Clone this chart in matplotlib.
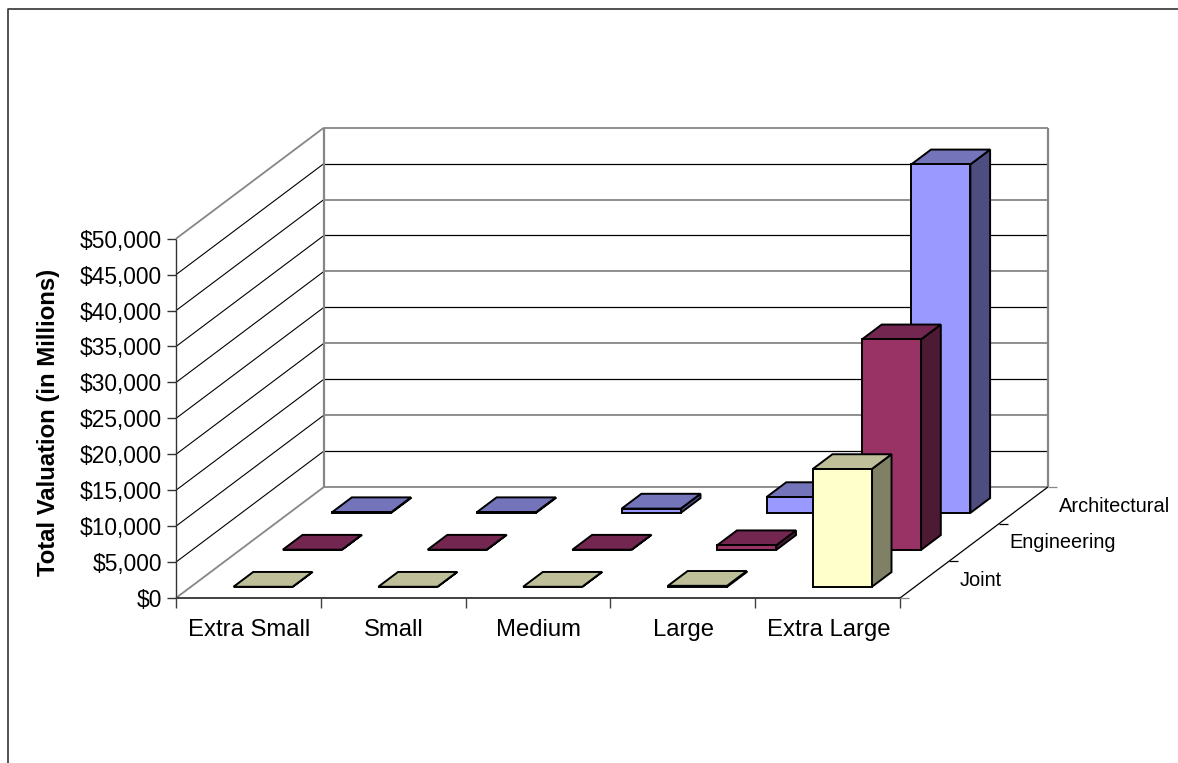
import matplotlib
matplotlib.use('Agg')
import matplotlib.pyplot as plt
from matplotlib.patches import Polygon

plt.rcParams['font.family'] = ['Liberation Sans', 'DejaVu Sans']

# data
categories = ['Extra Small', 'Small', 'Medium', 'Large', 'Extra Large']
series_names = ['Joint', 'Engineering', 'Architectural']
joint = [20, 20, 20, 150, 16400]
engineering = [30, 30, 30, 650, 29300]
architectural = [100, 100, 600, 2200, 48500]
y_ticks = [0, 5000, 10000, 15000, 20000, 25000, 30000, 35000, 40000, 45000, 50000]

# front, top, side face colours per series
colors = [('#FFFFCC', '#BFBF99', '#808066'),
          ('#993366', '#732650', '#4D1A33'),
          ('#9999FF', '#7474BB', '#4D4D80')]

# oblique projection of the excel 3d chart, in pixels
X0, Y0 = 176, 598
CAT_W = 144.8
ROW_DX, ROW_DY = 49.3, -37.0
VAL_H = 359.3 / 50000


def project(cat, row, val=0):
    return (X0 + cat * CAT_W + row * ROW_DX, Y0 + row * ROW_DY - val * VAL_H)


def draw_line(ax, p, q, color='black', lw=0.8, z=1):
    ax.plot([p[0], q[0]], [p[1], q[1]], color=color, lw=lw, zorder=z, solid_capstyle='butt')


def draw_bar(ax, cat, row, val, cols, z):
    c0, c1 = cat + 0.295, cat + 0.703
    r0, r1 = row + 0.3, row + 0.7
    side = [project(c1, r0, 0), project(c1, r1, 0), project(c1, r1, val), project(c1, r0, val)]
    top = [project(c0, r0, val), project(c1, r0, val), project(c1, r1, val), project(c0, r1, val)]
    front = [project(c0, r0, 0), project(c1, r0, 0), project(c1, r0, val), project(c0, r0, val)]
    for pts, col in [(side, cols[2]), (top, cols[1]), (front, cols[0])]:
        ax.add_patch(Polygon(pts, closed=True, facecolor=col, edgecolor='black',
                             lw=1.4, joinstyle='miter', zorder=z))


fig = plt.figure(figsize=(11.78, 7.63), dpi=100)
ax = fig.add_axes([0, 0, 1, 1])
ax.set_xlim(0, 1178)
ax.set_ylim(763, 0)
ax.axis('off')

# outer chart frame, right and bottom are cut off
ax.plot([8, 8, 1178], [763, 9, 9], color='#333333', lw=1.2, zorder=1)

n_cat = len(categories)
n_row = len(series_names)
gray = '#868686'

# walls and gridlines
for i, v in enumerate(y_ticks):
    if v == 0 or v == y_ticks[-1]:
        continue
    draw_line(ax, project(0, 0, v), project(0, n_row, v), 'black', 0.8)
    back_col = 'black' if i % 2 == 1 else gray
    back_lw = 0.9 if i % 2 == 1 else 1.3
    draw_line(ax, project(0, n_row, v), project(n_cat, n_row, v), back_col, back_lw)

draw_line(ax, project(0, 0, 50000), project(0, n_row, 50000), gray, 1.3, 2)
draw_line(ax, project(0, 0, 0), project(0, n_row, 0), gray, 1.3, 2)
draw_line(ax, project(0, n_row, 50000), project(n_cat, n_row, 50000), gray, 1.3, 2)
draw_line(ax, project(0, n_row, 0), project(n_cat, n_row, 0), gray, 1.3, 2)
draw_line(ax, project(0, n_row, 0), project(0, n_row, 50000), gray, 1.6, 2)
draw_line(ax, project(n_cat, n_row, 0), project(n_cat, n_row, 50000), gray, 1.6, 2)

# bars back to front
z = 5
for row, vals in reversed(list(enumerate([joint, engineering, architectural]))):
    for cat, val in enumerate(vals):
        draw_bar(ax, cat, row, val, colors[row], z)
        z += 1

# value axis
draw_line(ax, project(0, 0, 0), project(0, 0, 50000), '#333333', 1.0, 3)
for v in y_ticks:
    x, y = project(0, 0, v)
    draw_line(ax, (x - 9, y), (x, y), '#333333', 1.0, 3)
    ax.text(x - 14, y, f'${v:,}', ha='right', va='center_baseline', fontsize=16.4, color='black')

# category axis
draw_line(ax, project(0, 0, 0), project(n_cat, 0, 0), '#404040', 1.4, 3)
for c in range(n_cat + 1):
    x, y = project(c, 0, 0)
    draw_line(ax, (x, y), (x, y + 10), '#404040', 1.0, 3)
for c, name in enumerate(categories):
    x, y = project(c + 0.5, 0, 0)
    ax.text(x + 1, y + 38, name, ha='center', va='baseline', fontsize=17.2, color='black')

# depth axis
draw_line(ax, project(n_cat, 0, 0), project(n_cat, n_row, 0), 'black', 0.9, 3)
for r in range(n_row + 1):
    x, y = project(n_cat, r, 0)
    col = 'black' if 0 < r < n_row else gray
    draw_line(ax, (x, y), (x + 9, y), col, 0.9, 3)
for r, name in enumerate(series_names):
    x, y = project(n_cat, r + 0.5, 0)
    ax.text(x + 35.5, y - 1.5, name, ha='left', va='center_baseline', fontsize=14.4, color='black')

ax.text(49, 422, 'Total Valuation (in Millions)', rotation=90, ha='center', va='center',
        fontsize=17.2, fontweight='bold', color='black')

fig.savefig('out.png', dpi=100)
